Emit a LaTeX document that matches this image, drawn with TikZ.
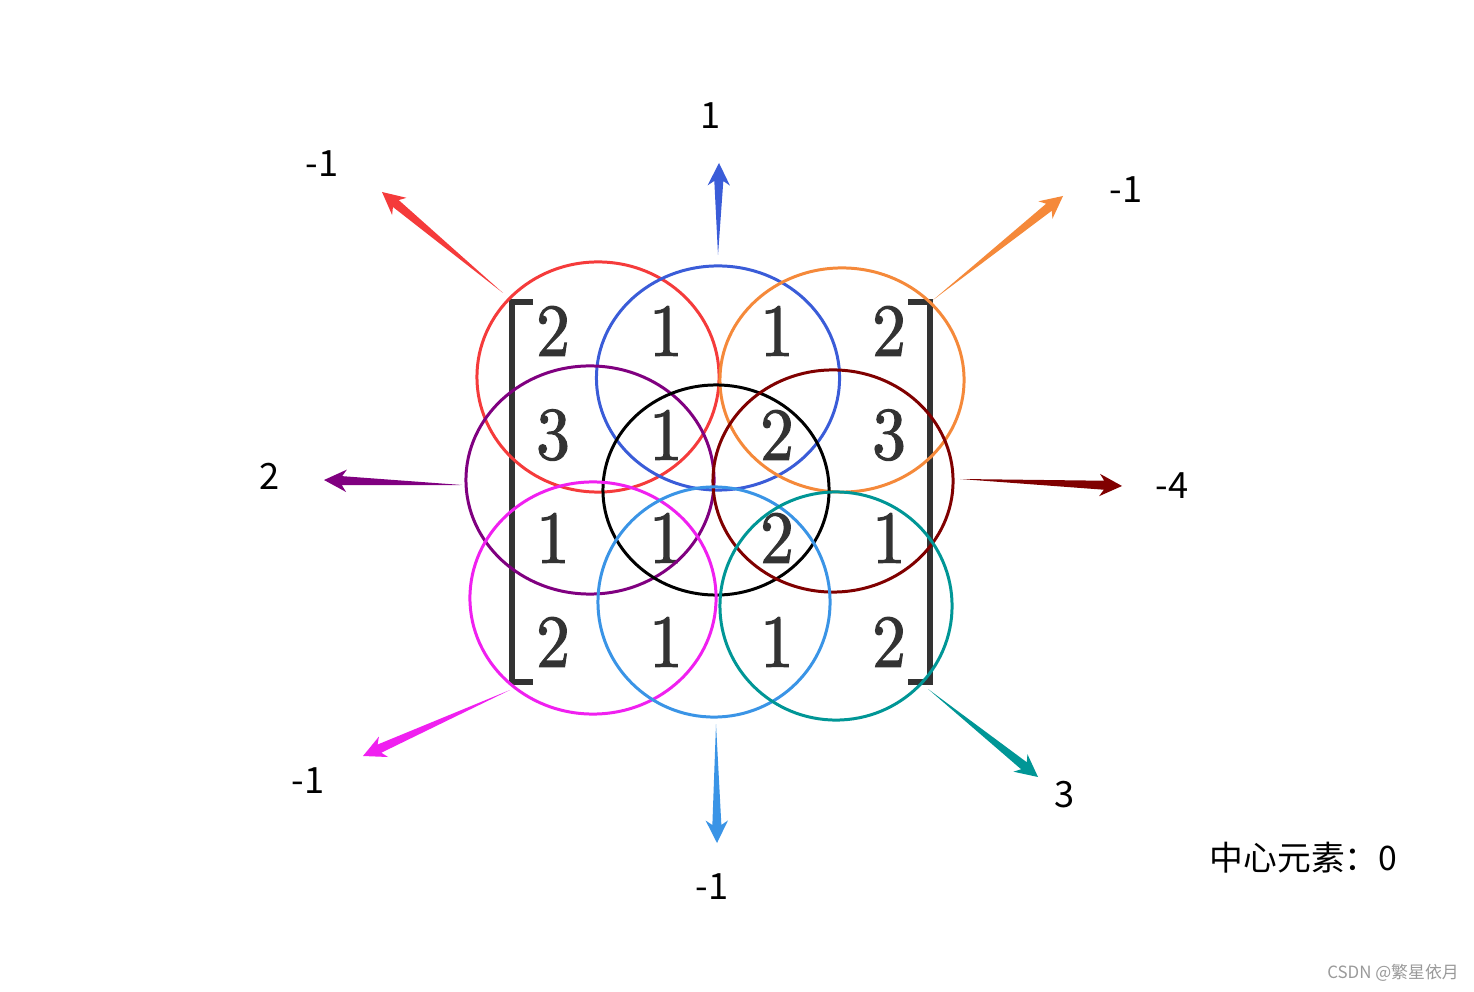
\documentclass[tikz,border=0pt]{standalone}
\usepackage{fontspec}
\newfontfamily\cjk{Noto Sans CJK SC}
\newfontfamily\digfont[FakeBold=1.6]{lmroman10-regular.otf}
\usetikzlibrary{calc}
\definecolor{cred}{HTML}{F53B3B}
\definecolor{cblue}{HTML}{3A5CD8}
\definecolor{corange}{HTML}{F5893A}
\definecolor{cpurple}{HTML}{800080}
\definecolor{cdred}{HTML}{800000}
\definecolor{cmag}{HTML}{F020F0}
\definecolor{clblue}{HTML}{3A94E6}
\definecolor{cteal}{HTML}{009696}
\definecolor{mgray}{HTML}{333333}
\definecolor{wgray}{HTML}{9A9A9A}
\newcommand\taper[3]{%
  \coordinate (#2s) at ($(#2)!0.18cm!(#1)$);
  \coordinate (#2h) at ($(#2)!0.225cm!(#1)$);
  \fill[#3] (#1) -- ($(#2s)!0.045cm!90:(#1)$) -- ($(#2h)!0.112cm!90:(#1)$) -- (#2)
    -- ($(#2h)!0.112cm!-90:(#1)$) -- ($(#2s)!0.045cm!-90:(#1)$) -- cycle;}
\begin{document}
\begin{tikzpicture}[x=0.01cm,y=-0.01cm,
  digit/.style={text=mgray,inner sep=0pt,font=\digfont\fontsize{20}{24}\selectfont},
  ring/.style={line width=0.85pt},
  lab/.style={inner sep=0pt,font=\cjk\fontsize{10.3}{12}\selectfont}]
\useasboundingbox[fill=white] (0,0) rectangle (1474,992);
% matrix
\foreach \r/\y/\a/\b/\c/\d in {1/331/2/1/1/2, 2/435/3/1/2/3, 3/538/1/1/2/1, 4/642/2/1/1/2}{
  \node[digit] (m\r1) at (553,\y) {\scalebox{0.96}[1.06]{\a}};
  \node[digit] (m\r2) at (666,\y) {\scalebox{0.96}[1.06]{\b}};
  \node[digit] (m\r3) at (777,\y) {\scalebox{0.96}[1.06]{\c}};
  \node[digit] (m\r4) at (889,\y) {\scalebox{0.96}[1.06]{\d}};
}
\draw[mgray,line width=1.5pt] (533,302) -- (512,302) -- (512,682) -- (533,682);
\draw[mgray,line width=1.5pt] (908,302) -- (930,302) -- (930,682) -- (908,682);
% circles
\coordinate (cR) at (598,377);
\coordinate (cB) at (718,378);
\coordinate (cO) at (842,380);
\coordinate (cP) at (590,480);
\coordinate (cK) at (716,490);
\coordinate (cD) at (833,481);
\coordinate (cM) at (593,598);
\coordinate (cL) at (714,602);
\coordinate (cT) at (836,606);
\draw[ring,cred] (cR) ellipse [x radius=1.21cm, y radius=1.15cm];
\draw[ring,cblue] (cB) ellipse [x radius=1.215cm, y radius=1.12cm];
\draw[ring,corange] (cO) ellipse [x radius=1.22cm, y radius=1.12cm];
\draw[ring,cpurple] (cP) ellipse [x radius=1.24cm, y radius=1.14cm];
\draw[ring,black] (cK) ellipse [x radius=1.13cm, y radius=1.05cm];
\draw[ring,cdred] (cD) ellipse [x radius=1.20cm, y radius=1.11cm];
\draw[ring,cmag] (cM) ellipse [x radius=1.23cm, y radius=1.16cm];
\draw[ring,clblue] (cL) ellipse [x radius=1.16cm, y radius=1.15cm];
\draw[ring,cteal] (cT) ellipse [x radius=1.16cm, y radius=1.14cm];
% arrows
\coordinate (tR) at (503,293); \coordinate (pR) at (382,192);
\coordinate (tB) at (718,255); \coordinate (pB) at (719,163);
\coordinate (tO) at (933,300); \coordinate (pO) at (1063,196);
\coordinate (tP) at (462,485); \coordinate (pP) at (324,480);
\coordinate (tD) at (960,479); \coordinate (pD) at (1122,486);
\coordinate (tM) at (510,690); \coordinate (pM) at (363,756);
\coordinate (tL) at (716,724); \coordinate (pL) at (717,843);
\coordinate (tT) at (928,689); \coordinate (pT) at (1038,777);
\taper{tR}{pR}{cred}
\taper{tB}{pB}{cblue}
\taper{tO}{pO}{corange}
\taper{tP}{pP}{cpurple}
\taper{tD}{pD}{cdred}
\taper{tM}{pM}{cmag}
\taper{tL}{pL}{clblue}
\taper{tT}{pT}{cteal}
% labels
\node[lab] (lB) at (711,116) {1};
\node[lab] (lR) at (322,164) {-1};
\node[lab] (lO) at (1126,190) {-1};
\node[lab] (lP) at (270,476) {2};
\node[lab] (lD) at (1172,486) {-4};
\node[lab] (lM) at (308,781) {-1};
\node[lab] (lL) at (712,887) {-1};
\node[lab] (lT) at (1065,795) {3};
\node[lab,font=\cjk\fontsize{9.6}{12}\selectfont] (cen) at (1303.5,858) {中心元素：0};
\node[inner sep=0pt,text=wgray,font=\cjk\fontsize{4.8}{6}\selectfont] (wm) at (1393,973) {CSDN @繁星依月};
\end{tikzpicture}
\end{document}
